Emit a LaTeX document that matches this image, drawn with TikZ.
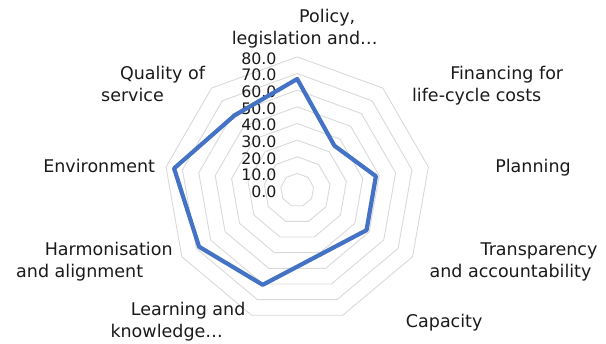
\documentclass[tikz,border=0pt]{standalone}
\usepackage{fontspec}
\setmainfont{DejaVu Sans}
\usetikzlibrary{positioning,shapes.geometric}
\definecolor{gridgray}{HTML}{D9D9D9}
\definecolor{seriesblue}{HTML}{4472C4}
\definecolor{labeltext}{HTML}{1A1A1A}
\tikzstyle{ring}=[regular polygon, regular polygon sides=9, draw=gridgray, line width=0.9pt,
        inner sep=0pt, outer sep=0pt]
\tikzstyle{series}=[draw=seriesblue, line width=4.2pt, line join=round]
\tikzstyle{axlabel}=[align=center, anchor=base, inner sep=0pt, text=labeltext,
        font=\fontsize{17.5}{22}\selectfont]
\tikzstyle{ticklabel}=[anchor=east, inner sep=0pt, text=labeltext,
        font=\fontsize{15.8}{18}\selectfont]

\begin{document}
\begin{tikzpicture}[x=1pt,y=1pt]
\useasboundingbox (-297.2,-153.9) rectangle (308.8,190.1);
% grid rings, 10 units each
\node[ring, minimum size=33.3] (r10) at (0,0) {};
\node[ring, minimum size=66.6] (r20) at (0,0) {};
\node[ring, minimum size=99.9] (r30) at (0,0) {};
\node[ring, minimum size=133.2] (r40) at (0,0) {};
\node[ring, minimum size=166.5] (r50) at (0,0) {};
\node[ring, minimum size=199.8] (r60) at (0,0) {};
\node[ring, minimum size=233.1] (r70) at (0,0) {};
\node[ring, minimum size=266.4] (r80) at (0,0) {};
% scale
\node[ticklabel] (t0) at (-20.5,-1.5) {0.0};
\node[ticklabel] (t10) at (-20.5,15.15) {10.0};
\node[ticklabel] (t20) at (-20.5,31.8) {20.0};
\node[ticklabel] (t30) at (-20.5,48.45) {30.0};
\node[ticklabel] (t40) at (-20.5,65.1) {40.0};
\node[ticklabel] (t50) at (-20.5,81.75) {50.0};
\node[ticklabel] (t60) at (-20.5,98.4) {60.0};
\node[ticklabel] (t70) at (-20.5,115.05) {70.0};
\node[ticklabel] (t80) at (-20.5,131.7) {80.0};
% category labels (base = last line)
\node[axlabel] (l-policy) at (7.5,145.8) {\hspace*{45pt}Policy,\\legislation and…};
\node[axlabel] (l-financing) at (179.5,88.4) {\hspace*{60pt}Financing for\\life-cycle costs};
\node[axlabel] (l-planning) at (235.8,17.4) {Planning};
\node[axlabel] (l-transparency) at (213.3,-87.2) {\hspace*{57pt}Transparency\\and accountability};
\node[axlabel] (l-capacity) at (147,-137.2) {Capacity};
\node[axlabel] (l-learning) at (-130.5,-147.6) {\hspace*{43pt}Learning and\\knowledge…};
\node[axlabel] (l-harmonisation) at (-217.5,-87.2) {\hspace*{58pt}Harmonisation\\and alignment};
\node[axlabel] (l-environment) at (-198,17.4) {Environment};
\node[axlabel] (l-quality) at (-164.7,88.4) {\hspace*{60pt}Quality of\\service};
% data points
\coordinate (policy) at (90:111.1);
\coordinate (financing) at (50:57.9);
\coordinate (planning) at (10:79.9);
\coordinate (transparency) at (-30:80.1);
\coordinate (capacity) at (-70:68.4);
\coordinate (learning) at (-110:100.8);
\coordinate (harmonisation) at (-150:113.3);
\coordinate (environment) at (170:125);
\coordinate (quality) at (130:97.5);
\draw[series] (policy) -- (financing) -- (planning) -- (transparency) -- (capacity)
        -- (learning) -- (harmonisation) -- (environment) -- (quality) -- cycle;
\end{tikzpicture}
\end{document}
